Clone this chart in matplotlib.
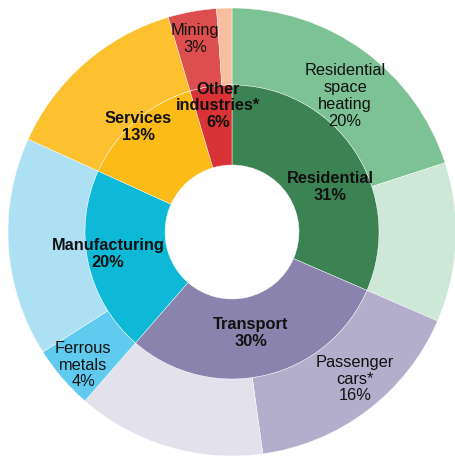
#!/usr/bin/env python3
"""Final energy consumption by sector - nested donut chart."""

import matplotlib.pyplot as plt

# Inner ring: sectors (shares as drawn)
sectors = ['Residential', 'Transport', 'Manufacturing', 'Services', 'Other industries*']
sector_share = [31.5, 29.9, 20.4, 13.6, 4.6]
sector_label = ['31%', '30%', '20%', '13%', '6%']
sector_colors = ['#3C8354', '#8A83AE', '#0DB9D6', '#FCBB17', '#DA3335']

# Outer ring: sub-uses
subuses = ['Residential space heating', 'Residential other', 'Passenger cars*',
           'Transport other', 'Ferrous metals', 'Manufacturing other',
           'Services', 'Mining', 'Other industries other']
subuse_share = [20.0, 11.5, 16.3, 13.6, 4.6, 15.8, 13.6, 3.5, 1.1]
subuse_colors = ['#7DC295', '#CDE8D6', '#B3AECB', '#E3E1EC', '#60CBEE',
                 '#AEE0F4', '#FDC02E', '#DC4F4E', '#F9BEA0']

W, H = 455, 458
fig = plt.figure(figsize=(W / 100, H / 100), dpi=100)
ax = fig.add_axes([0, 0, 1, 1])

cx, cy = 232, H - 232
wedge_kw = dict(edgecolor='white', linewidth=0.3)

ax.pie(subuse_share, radius=224, center=(cx, cy), startangle=90,
       counterclock=False, colors=subuse_colors,
       wedgeprops=dict(width=77, **wedge_kw), frame=True)
ax.pie(sector_share, radius=147, center=(cx, cy), startangle=90,
       counterclock=False, colors=sector_colors,
       wedgeprops=dict(width=80, **wedge_kw), frame=True)
ax.set_xlim(0, W)
ax.set_ylim(0, H)
ax.set_aspect('equal')
ax.axis('off')

font = ['Liberation Sans', 'DejaVu Sans']
txt_kw = dict(ha='center', va='center', fontsize=11.8, family=font,
              linespacing=1.15, color='#111111')

# Sector labels (bold), pixel positions from top-left
sector_pos = [(330, 187), (251, 333), (108, 254), (138, 127), (218, 106)]
for name, lab, (x, y) in zip(sectors, sector_label, sector_pos):
    name = name.replace('Other industries*', 'Other\nindustries*')
    ax.text(x, H - y, f'{name}\n{lab}', fontweight='bold', **txt_kw)

# Selected sub-use labels
outer_text = ['Residential\nspace\nheating\n20%', 'Passenger\ncars*\n16%',
              'Ferrous\nmetals\n4%', 'Mining\n3%']
outer_pos = [(345, 96), (355, 379), (83, 365), (195, 39)]
for lab, (x, y) in zip(outer_text, outer_pos):
    ax.text(x, H - y, lab, **txt_kw)

fig.savefig('out.png', dpi=100, facecolor='white')
